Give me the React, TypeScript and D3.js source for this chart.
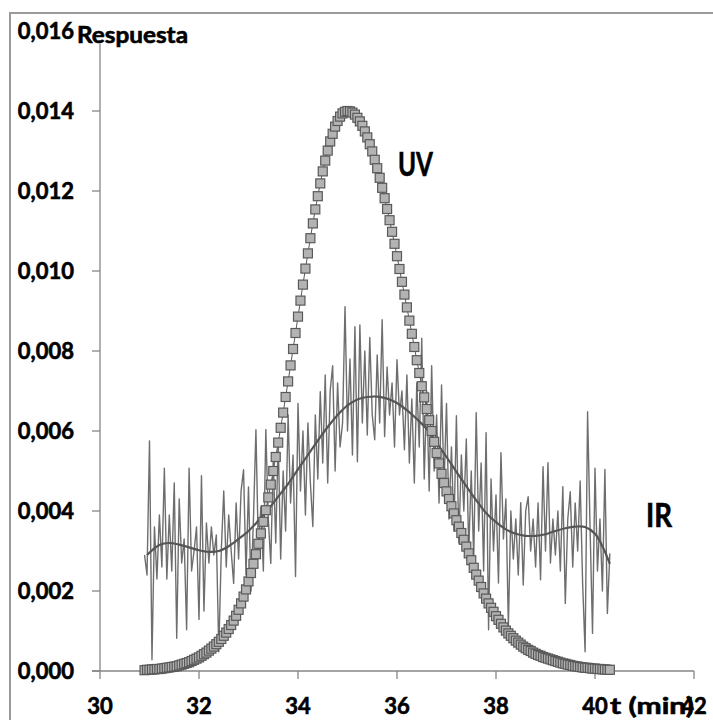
import React from "react";
import * as d3 from "d3";

// Sample times (min) shared by the UV and IR detector traces
const times = [
  30.90, 30.95, 31.00, 31.05, 31.10, 31.15, 31.20, 31.25, 31.30, 31.35,
  31.40, 31.45, 31.50, 31.55, 31.60, 31.65, 31.70, 31.75, 31.80, 31.85,
  31.90, 31.95, 32.00, 32.05, 32.10, 32.15, 32.20, 32.25, 32.30, 32.35,
  32.40, 32.45, 32.50, 32.55, 32.60, 32.65, 32.70, 32.75, 32.80, 32.85,
  32.90, 32.95, 33.00, 33.05, 33.10, 33.15, 33.20, 33.25, 33.30, 33.35,
  33.40, 33.45, 33.50, 33.55, 33.60, 33.65, 33.70, 33.75, 33.80, 33.85,
  33.90, 33.95, 34.00, 34.05, 34.10, 34.15, 34.20, 34.25, 34.30, 34.35,
  34.40, 34.45, 34.50, 34.55, 34.60, 34.65, 34.70, 34.75, 34.80, 34.85,
  34.90, 34.95, 35.00, 35.05, 35.10, 35.15, 35.20, 35.25, 35.30, 35.35,
  35.40, 35.45, 35.50, 35.55, 35.60, 35.65, 35.70, 35.75, 35.80, 35.85,
  35.90, 35.95, 36.00, 36.05, 36.10, 36.15, 36.20, 36.25, 36.30, 36.35,
  36.40, 36.45, 36.50, 36.55, 36.60, 36.65, 36.70, 36.75, 36.80, 36.85,
  36.90, 36.95, 37.00, 37.05, 37.10, 37.15, 37.20, 37.25, 37.30, 37.35,
  37.40, 37.45, 37.50, 37.55, 37.60, 37.65, 37.70, 37.75, 37.80, 37.85,
  37.90, 37.95, 38.00, 38.05, 38.10, 38.15, 38.20, 38.25, 38.30, 38.35,
  38.40, 38.45, 38.50, 38.55, 38.60, 38.65, 38.70, 38.75, 38.80, 38.85,
  38.90, 38.95, 39.00, 39.05, 39.10, 39.15, 39.20, 39.25, 39.30, 39.35,
  39.40, 39.45, 39.50, 39.55, 39.60, 39.65, 39.70, 39.75, 39.80, 39.85,
  39.90, 39.95, 40.00, 40.05, 40.10, 40.15, 40.20, 40.25, 40.30,
];

// UV detector response
const uvValues = [
  0.00002, 0.00003, 0.00003, 0.00004, 0.00004, 0.00005, 0.00005, 0.00006, 0.00007, 0.00008,
  0.00009, 0.00010, 0.00011, 0.00012, 0.00014, 0.00016, 0.00018, 0.00020, 0.00022, 0.00025,
  0.00028, 0.00031, 0.00034, 0.00038, 0.00042, 0.00046, 0.00051, 0.00056, 0.00061, 0.00067,
  0.00073, 0.00080, 0.00088, 0.00096, 0.00105, 0.00115, 0.00126, 0.00138, 0.00153, 0.00169,
  0.00186, 0.00204, 0.00224, 0.00245, 0.00268, 0.00292, 0.00318, 0.00344, 0.00373, 0.00402,
  0.00434, 0.00466, 0.00500, 0.00535, 0.00571, 0.00608, 0.00646, 0.00685, 0.00724, 0.00764,
  0.00805, 0.00845, 0.00886, 0.00926, 0.00966, 0.01006, 0.01044, 0.01082, 0.01119, 0.01154,
  0.01187, 0.01219, 0.01249, 0.01276, 0.01301, 0.01324, 0.01343, 0.01361, 0.01375, 0.01386,
  0.01394, 0.01398, 0.01400, 0.01399, 0.01396, 0.01391, 0.01383, 0.01374, 0.01363, 0.01349,
  0.01334, 0.01317, 0.01299, 0.01278, 0.01257, 0.01233, 0.01208, 0.01182, 0.01155, 0.01127,
  0.01098, 0.01068, 0.01037, 0.01005, 0.00973, 0.00941, 0.00909, 0.00876, 0.00843, 0.00810,
  0.00777, 0.00745, 0.00712, 0.00684, 0.00655, 0.00627, 0.00600, 0.00573, 0.00545, 0.00519,
  0.00493, 0.00470, 0.00449, 0.00430, 0.00412, 0.00394, 0.00377, 0.00361, 0.00345, 0.00328,
  0.00311, 0.00294, 0.00277, 0.00258, 0.00241, 0.00226, 0.00210, 0.00194, 0.00181, 0.00169,
  0.00158, 0.00148, 0.00137, 0.00128, 0.00118, 0.00109, 0.00101, 0.00094, 0.00088, 0.00082,
  0.00076, 0.00071, 0.00066, 0.00061, 0.00057, 0.00053, 0.00050, 0.00046, 0.00043, 0.00040,
  0.00038, 0.00035, 0.00033, 0.00031, 0.00029, 0.00027, 0.00025, 0.00023, 0.00021, 0.00019,
  0.00018, 0.00016, 0.00015, 0.00013, 0.00012, 0.00011, 0.00010, 0.00009, 0.00008, 0.00008,
  0.00007, 0.00006, 0.00006, 0.00005, 0.00005, 0.00004, 0.00004, 0.00003, 0.00003,
];

// IR detector response (noisy raw signal)
const irValues = [
  0.00290, 0.00240, 0.00575, 0.00028, 0.00360, 0.00230, 0.00390, 0.00260, 0.00507, 0.00230,
  0.00390, 0.00250, 0.00470, 0.00082, 0.00430, 0.00270, 0.00330, 0.00103, 0.00507, 0.00250,
  0.00300, 0.00360, 0.00129, 0.00488, 0.00150, 0.00370, 0.00270, 0.00360, 0.00290, 0.00340,
  0.00048, 0.00300, 0.00450, 0.00260, 0.00390, 0.00300, 0.00219, 0.00420, 0.00280, 0.00450,
  0.00503, 0.00240, 0.00460, 0.00200, 0.00380, 0.00603, 0.00300, 0.00410, 0.00250, 0.00604,
  0.00380, 0.00269, 0.00530, 0.00320, 0.00580, 0.00280, 0.00500, 0.00350, 0.00640, 0.00420,
  0.00540, 0.00236, 0.00669, 0.00450, 0.00600, 0.00390, 0.00620, 0.00470, 0.00361, 0.00640,
  0.00480, 0.00698, 0.00520, 0.00740, 0.00470, 0.00700, 0.00763, 0.00500, 0.00720, 0.00560,
  0.00620, 0.00911, 0.00600, 0.00780, 0.00540, 0.00861, 0.00523, 0.00865, 0.00620, 0.00800,
  0.00590, 0.00834, 0.00640, 0.00578, 0.00790, 0.00620, 0.00878, 0.00586, 0.00760, 0.00640,
  0.00720, 0.00560, 0.00778, 0.00640, 0.00700, 0.00553, 0.00740, 0.00520, 0.00680, 0.00470,
  0.00720, 0.00560, 0.00832, 0.00480, 0.00700, 0.00450, 0.00763, 0.00500, 0.00640, 0.00420,
  0.00715, 0.00460, 0.00669, 0.00380, 0.00560, 0.00350, 0.00638, 0.00320, 0.00540, 0.00400,
  0.00580, 0.00300, 0.00500, 0.00280, 0.00646, 0.00350, 0.00520, 0.00250, 0.00596, 0.00103,
  0.00480, 0.00300, 0.00440, 0.00220, 0.00546, 0.00330, 0.00430, 0.00111, 0.00400, 0.00280,
  0.00380, 0.00240, 0.00421, 0.00215, 0.00400, 0.00436, 0.00300, 0.00380, 0.00260, 0.00420,
  0.00228, 0.00511, 0.00300, 0.00521, 0.00270, 0.00380, 0.00290, 0.00400, 0.00250, 0.00461,
  0.00169, 0.00380, 0.00448, 0.00260, 0.00420, 0.00300, 0.00475, 0.00220, 0.00048, 0.00648,
  0.00360, 0.00094, 0.00507, 0.00250, 0.00380, 0.00200, 0.00504, 0.00144, 0.00294,
];

// IR smoothed trend
const irSmoothTimes = [
  30.95, 31.2, 31.4, 31.6, 31.8,
  32.0, 32.2, 32.4, 32.6, 32.8, 33.0, 33.2, 33.4, 33.6, 33.8,
  34.0, 34.2, 34.4, 34.6, 34.8, 35.0, 35.2, 35.4, 35.6, 35.8,
  36.0, 36.2, 36.4, 36.6, 36.8, 37.0, 37.2, 37.4, 37.6, 37.8,
  38.0, 38.2, 38.4, 38.6, 38.8, 39.0, 39.2, 39.4, 39.6, 39.8,
  40.0, 40.15, 40.3,
];
const irSmoothValues = [
  0.00290, 0.00315, 0.00320, 0.00316, 0.00309,
  0.00302, 0.00298, 0.00300, 0.00312, 0.00330, 0.00350, 0.00376, 0.00404, 0.00436, 0.00468,
  0.00504, 0.00540, 0.00576, 0.00610, 0.00640, 0.00664, 0.00679, 0.00685, 0.00686, 0.00681,
  0.00670, 0.00652, 0.00630, 0.00605, 0.00570, 0.00535, 0.00498, 0.00462, 0.00427, 0.00395,
  0.00372, 0.00354, 0.00343, 0.00338, 0.00338, 0.00342, 0.00350, 0.00357, 0.00361, 0.00360,
  0.00343, 0.00312, 0.00268,
];

const xTickValues = [30, 32, 34, 36, 38, 40, 42];
const yTickValues = [0, 0.002, 0.004, 0.006, 0.008, 0.01, 0.012, 0.014, 0.016];

const FONT = "Lato, 'Open Sans', 'DejaVu Sans', sans-serif";

export default function App() {
  const W = 713;
  const H = 720;
  const x = d3.scaleLinear().domain([30, 42]).range([100, 694]);
  const y = d3.scaleLinear().domain([0, 0.016]).range([671, 31]);
  const fmt = d3
    .formatLocale({ decimal: ",", thousands: ".", grouping: [3], currency: ["", ""] })
    .format(".3f");

  const uvPts: [number, number][] = times.map((t, i) => [t, uvValues[i]]);
  const irPts: [number, number][] = times.map((t, i) => [t, irValues[i]]);
  const smPts: [number, number][] = irSmoothTimes.map((t, i) => [t, irSmoothValues[i]]);

  const line = d3
    .line<[number, number]>()
    .x((d) => x(d[0]))
    .y((d) => y(d[1]));
  const smooth = d3
    .line<[number, number]>()
    .x((d) => x(d[0]))
    .y((d) => y(d[1]))
    .curve(d3.curveCatmullRom);

  const axisColor = "#868686";
  const sq = 9;
  const txt = { fontWeight: "bold" as const, fill: "#000", stroke: "#000", strokeWidth: 0.6 };

  return (
    <svg
      width={W}
      height={H}
      style={{ position: "absolute", left: 0, top: 0, background: "#fff" }}
      fontFamily={FONT}
    >
      <rect x={0} y={0} width={W} height={H} fill="#fff" />
      {/* chart border */}
      <rect x={10} y={13} width={760} height={760} fill="none" stroke="#9a9a9a" strokeWidth={2} />

      {/* axes */}
      <line x1={100} x2={100} y1={y(0.016)} y2={y(0)} stroke={axisColor} strokeWidth={1.3} />
      <line x1={92} x2={x(42)} y1={y(0)} y2={y(0)} stroke={axisColor} strokeWidth={1.3} />
      {yTickValues.map((v) => (
        <line key={"yt" + v} x1={92} x2={100} y1={y(v)} y2={y(v)} stroke={axisColor} strokeWidth={1.3} />
      ))}
      {xTickValues.map((v) => (
        <line key={"xt" + v} x1={x(v)} x2={x(v)} y1={y(0)} y2={y(0) + 8} stroke={axisColor} strokeWidth={1.3} />
      ))}

      {/* IR raw */}
      <path d={line(irPts) || ""} fill="none" stroke="#6e6e6e" strokeWidth={1.4} strokeLinejoin="round" />
      {/* IR smooth */}
      <path d={smooth(smPts) || ""} fill="none" stroke="#555" strokeWidth={2.2} />

      {/* UV */}
      <path d={line(uvPts) || ""} fill="none" stroke="#595959" strokeWidth={1} />
      {uvPts.map((d, i) => (
        <rect
          key={"uv" + i}
          x={x(d[0]) - sq / 2}
          y={y(d[1]) - sq / 2}
          width={sq}
          height={sq}
          fill="#b3b3b3"
          stroke="#595959"
          strokeWidth={1.2}
        />
      ))}

      {/* y tick labels */}
      {yTickValues.map((v) => (
        <text key={"yl" + v} x={74} y={y(v) + 8} textAnchor="end" fontSize={22} {...txt}>
          {fmt(v)}
        </text>
      ))}
      {/* x tick labels */}
      <text x={610} y={714} fontSize={22} {...txt} textLength={84} lengthAdjust="spacingAndGlyphs">
        t (min)
      </text>
      {xTickValues.map((v) => (
        <text key={"xl" + v} x={x(v)} y={714} textAnchor="middle" fontSize={22} {...txt}>
          {v}
        </text>
      ))}

      {/* axis title */}
      <rect x={77} y={24} width={114} height={20} fill="#fff" />
      <text x={77} y={43} fontSize={22} {...txt} textLength={111} lengthAdjust="spacingAndGlyphs">
        Respuesta
      </text>

      {/* series labels */}
      <text x={398} y={176} fontSize={32} {...txt} textLength={35} lengthAdjust="spacingAndGlyphs">
        UV
      </text>
      <text x={646} y={527} fontSize={32} {...txt} textLength={26} lengthAdjust="spacingAndGlyphs">
        IR
      </text>
    </svg>
  );
}
